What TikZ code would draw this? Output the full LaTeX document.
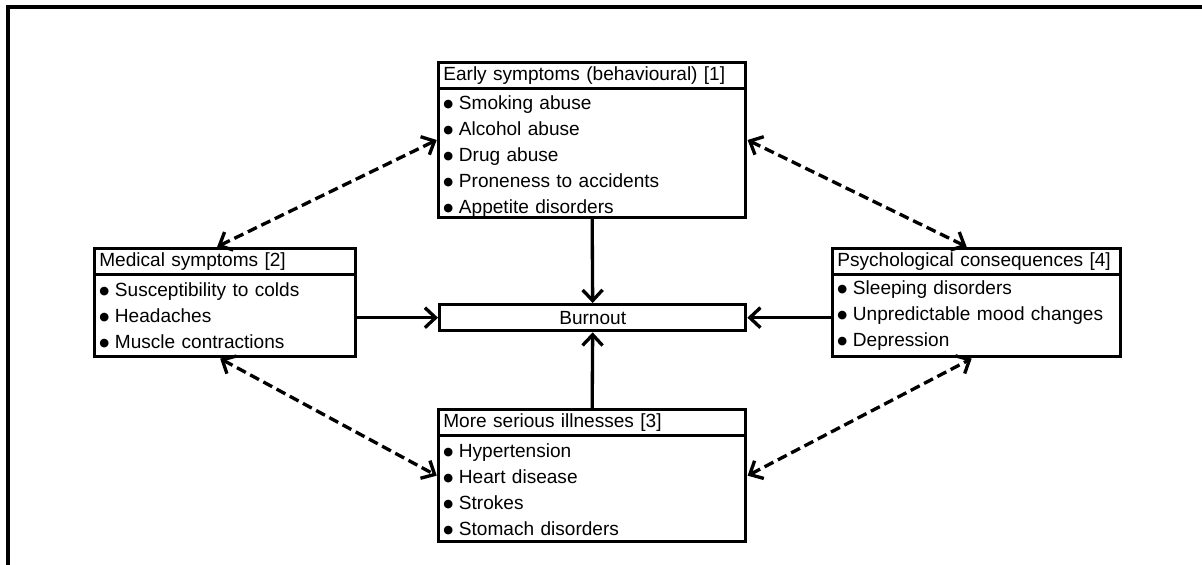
\documentclass[tikz,border=0pt]{standalone}
\usepackage{fontspec}
\setmainfont{Liberation Sans}
\newfontfamily\dejavu{DejaVu Sans}
\newcommand\bul{\raisebox{1.7pt}{\dejavu\fontsize{8.5}{8.5}\selectfont ●}\hspace{0.3em}}
\usetikzlibrary{arrows.meta,calc,fit}
\tikzset{
  lw/.style={line width=2.5pt},
  txt/.style={font=\fontsize{14.3}{19.5}\selectfont},
  headbox/.style={draw, lw, txt, anchor=north west, minimum height=19.5pt, inner xsep=3.5pt, inner ysep=0pt, align=left},
  bodybox/.style={draw, lw, txt, anchor=north west, inner xsep=3.5pt, inner ysep=0pt, align=left},
  sarr/.style={lw, -{Straight Barb[length=8pt,width=15pt]}},
  darr/.style={lw, dash pattern=on 7.5pt off 3.75pt, {Straight Barb[length=8pt,width=15pt]}-{Straight Barb[length=8pt,width=15pt]}}
}
\begin{document}
\begin{tikzpicture}[x=0.75pt,y=-0.75pt]
\useasboundingbox (0,0) rectangle (1202,564);
\clip (0,0) rectangle (1202,564);
\draw[lw, line join=miter] (8,600) -- (8,7) -- (1220,7);

% Early symptoms
\node[headbox, text width=223.25pt] (eH) at (437,61) {Early symptoms (behavioural) [1]};
\node[bodybox, text width=223.25pt, minimum height=96pt] (eB) at (437,87)
  {\rule{0pt}{15.5pt}\bul Smoking abuse\\ \bul Alcohol abuse\\ \bul Drug abuse\\ \bul Proneness to accidents\\ \bul Appetite disorders};
\node[fit=(eH)(eB), inner sep=0pt] (E) {};

% Medical symptoms
\node[headbox, text width=188.75pt] (mH) at (93,247) {Medical symptoms [2]};
\node[bodybox, text width=188.75pt, minimum height=61.5pt] (mB) at (93,273)
  {\bul Susceptibility to colds\\ \bul Headaches\\ \bul Muscle contractions};
\node[fit=(mH)(mB), inner sep=0pt] (M) {};

% Psychological consequences
\node[headbox, text width=209pt] (pH) at (831,247) {Psychological consequences [4]};
\node[bodybox, text width=209pt, minimum height=61.5pt] (pB) at (831,273)
  {\bul Sleeping disorders\\ \bul Unpredictable mood changes\\ \bul Depression};
\node[fit=(pH)(pB), inner sep=0pt] (P) {};

% More serious illnesses
\node[headbox, text width=223.25pt] (sH) at (437,408) {More serious illnesses [3]};
\node[bodybox, text width=223.25pt, minimum height=79.5pt] (sB) at (437,434)
  {\rule{0pt}{12.5pt}\bul Hypertension\\ \bul Heart disease\\ \bul Strokes\\ \bul Stomach disorders};
\node[fit=(sH)(sB), inner sep=0pt] (S) {};

% Burnout
\node[draw, lw, txt, anchor=north west, minimum width=229.5pt, minimum height=19.5pt, inner sep=0pt] (burn) at (438,303) {Burnout};

% solid arrows
\draw[sarr] (eB.south) -- (burn.north);
\draw[sarr] (sH.north) -- (burn.south);
\draw[sarr] (mB.east |- burn.west) -- (burn.west);
\draw[sarr] (pB.west |- burn.east) -- (burn.east);

% dashed double arrows
\draw[darr] ($(M.north)+(-8,0)$) -- (E.west);
\draw[darr] (E.east) -- ($(P.north)+(-10,0)$);
\draw[darr] ($(M.south)+(-5,0)$) -- (S.west);
\draw[darr] (S.east) -- ($(P.south)+(-5,0)$);
\end{tikzpicture}
\end{document}
